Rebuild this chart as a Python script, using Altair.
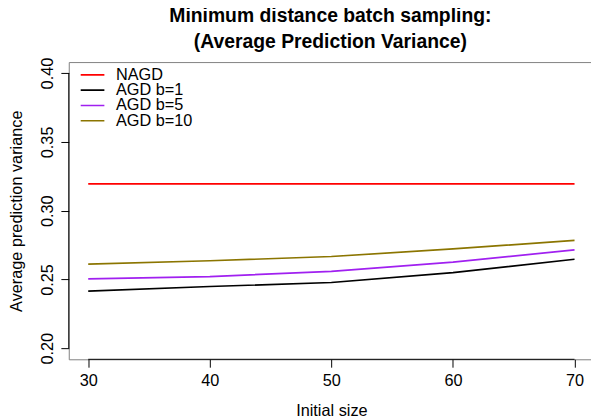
import altair as alt
import pandas as pd

sizes = [30, 40, 50, 60, 70]
series_names = ["NAGD", "AGD b=1", "AGD b=5", "AGD b=10"]
series_colors = ["#FF0000", "#000000", "#A020F0", "#8B7500"]
nagd = [0.3195, 0.3195, 0.3195, 0.3195, 0.3195]
agd_b1 = [0.2416, 0.2449, 0.2478, 0.2550, 0.2647]
agd_b5 = [0.2504, 0.2521, 0.2559, 0.2626, 0.2715]
agd_b10 = [0.2612, 0.2636, 0.2667, 0.2722, 0.2784]
y_ticks = [0.20, 0.25, 0.30, 0.35, 0.40]
x_ticks = [30, 40, 50, 60, 70]

rows = []
for name, vals in zip(series_names, [nagd, agd_b1, agd_b5, agd_b10]):
    for s, v in zip(sizes, vals):
        rows.append({"size": s, "value": v, "series": name})
df = pd.DataFrame(rows)

FONT = "Liberation Sans"
X_DOMAIN = [28.4, 71.435]
Y_DOMAIN = [0.192, 0.408]
W, H = 530.4, 301.3
X_TITLE = "Initial size"
Y_TITLE = "Average prediction variance"

xscale = alt.Scale(domain=X_DOMAIN, nice=False, zero=False)
yscale = alt.Scale(domain=Y_DOMAIN, nice=False, zero=False)

lines = alt.Chart(df).mark_line(strokeWidth=1.7, clip=True).encode(
    x=alt.X("size:Q", scale=xscale, title=X_TITLE,
            axis=alt.Axis(values=x_ticks, orient="bottom",
                          grid=False, domain=False, tickSize=8, tickColor="#000",
                          labelPadding=6,
                          titleY=57.3, titleX=266.2, titleBaseline="alphabetic")),
    y=alt.Y("value:Q", scale=yscale, title=Y_TITLE,
            axis=alt.Axis(values=y_ticks, format=".2f",
                          grid=False, domain=False, tickSize=8, tickColor="#000",
                          labelAngle=-90, labelAlign="center",
                          labelBaseline="alphabetic", labelPadding=8,
                          titleAngle=-90, titleX=-48, titleY=150.7,
                          titleAlign="center", titleBaseline="alphabetic")),
    color=alt.Color("series:N",
                    scale=alt.Scale(domain=series_names, range=series_colors),
                    legend=alt.Legend(title=None, orient="none", legendX=11.1, legendY=6.5,
                                      symbolType="stroke", symbolSize=576,
                                      symbolStrokeWidth=1.7, clipHeight=13, rowPadding=-1.5,
                                      labelOffset=10.7, labelFontSize=16.5, labelFont=FONT,
                                      labelColor="#000", padding=0)),
    order=alt.Order("size:Q"),
)

# R-style axis lines spanning first to last tick
xaxis_line = alt.Chart(pd.DataFrame({"a": [x_ticks[0]], "b": [x_ticks[-1]], "y": [Y_DOMAIN[0]]})).mark_rule(
    color="#000", strokeWidth=1).encode(
    x=alt.X("a:Q", scale=xscale, title=X_TITLE),
    x2="b:Q",
    y=alt.Y("y:Q", scale=yscale, title=Y_TITLE),
)
yaxis_line = alt.Chart(pd.DataFrame({"x": [X_DOMAIN[0]], "a": [y_ticks[0]], "b": [y_ticks[-1]]})).mark_rule(
    color="#000", strokeWidth=1).encode(
    x=alt.X("x:Q", scale=xscale, title=X_TITLE),
    y=alt.Y("a:Q", scale=yscale, title=Y_TITLE),
    y2="b:Q",
)

chart = alt.layer(lines, xaxis_line, yaxis_line).properties(
    width=W, height=H,
    autosize=alt.AutoSizeParams(type="none"),
    padding={"left": 61.6, "top": 52, "right": -1, "bottom": 58},
    title=alt.Title(["Minimum distance batch sampling:", "(Average Prediction Variance)"],
                    font=FONT, fontSize=19.6, fontWeight="bold", color="#000",
                    lineHeight=26, anchor="middle", baseline="alphabetic",
                    offset=13.3, dy=23.5),
).configure_view(stroke="#808080", strokeWidth=1).configure_axis(
    labelFont=FONT, titleFont=FONT, labelFontSize=16.5, titleFontSize=16.5,
    labelColor="#000", titleColor="#000", titleFontWeight="normal",
)

chart.save("out.html", embed_options={"renderer": "svg", "actions": False})
